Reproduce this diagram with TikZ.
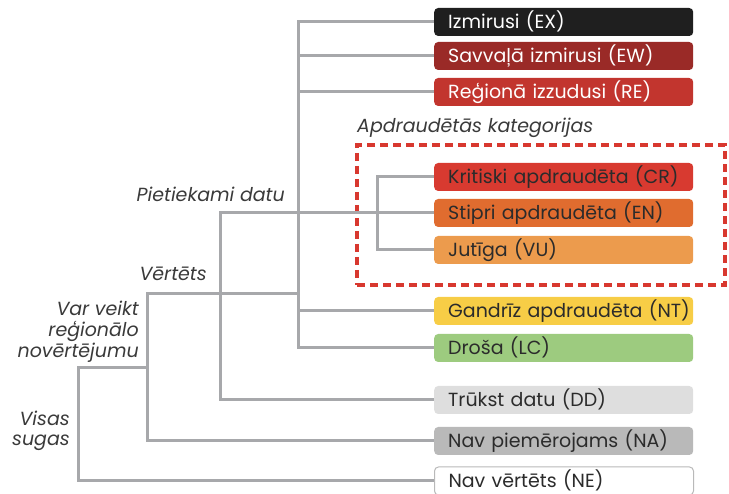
\documentclass[tikz,border=0pt]{standalone}
\usepackage{fontspec}
\setmainfont{Poppins}
\newfontfamily\lblfont{Poppins}
\definecolor{cEX}{HTML}{1F1F1F}
\definecolor{cEW}{HTML}{9A2A27}
\definecolor{cRE}{HTML}{C2352E}
\definecolor{cCR}{HTML}{D83A30}
\definecolor{cEN}{HTML}{E06C2F}
\definecolor{cVU}{HTML}{EC9B4D}
\definecolor{cNT}{HTML}{F7CD46}
\definecolor{cLC}{HTML}{9DCB7F}
\definecolor{cDD}{HTML}{DEDEDE}
\definecolor{cNA}{HTML}{B9B9B9}
\definecolor{treegray}{HTML}{A7A8AB}
\definecolor{dashred}{HTML}{D8382F}
\definecolor{txtdark}{HTML}{2B2B2B}
\definecolor{lblgray}{HTML}{3A3A3A}
\begin{document}
\begin{tikzpicture}[x=1pt,y=-1pt,
  cat/.style={rectangle, rounded corners=4pt, minimum height=28pt, text width=231pt,
    inner xsep=14pt, inner ysep=0pt, align=left, anchor=west, text height=15pt, text depth=1pt,
    font=\fontsize{19}{21}\selectfont, text=txtdark},
  light/.style={text=white},
  tree/.style={draw=treegray, line width=3pt},
  lbl/.style={font=\lblfont\itshape\fontsize{19}{21}\selectfont, text=lblgray, inner sep=0pt},
  dashframe/.style={draw=dashred, line width=4pt, dash pattern=on 8pt off 5pt}
]
\useasboundingbox (0,0) rectangle (729,494);
% category boxes
\node[cat, light, fill=cEX] (ex) at (434,22) {\mbox{Izmirusi (EX)}};
\node[cat, light, fill=cEW] (ew) at (434,56) {\mbox{Savvaļā izmirusi (EW)}};
\node[cat, light, fill=cRE] (re) at (434,92) {\mbox{Reģionā izzudusi (RE)}};
\node[cat, fill=cCR] (cr) at (434,177) {\mbox{Kritiski apdraudēta (CR)}};
\node[cat, fill=cEN] (en) at (434,213) {\mbox{Stipri apdraudēta (EN)}};
\node[cat, fill=cVU] (vu) at (434,250) {\mbox{Jutīga (VU)}};
\node[cat, fill=cNT] (nt) at (434,311) {\mbox{Gandrīz apdraudēta (NT)}};
\node[cat, fill=cLC] (lc) at (434,348) {\mbox{Droša (LC)}};
\node[cat, fill=cDD] (dd) at (434,400) {\mbox{Trūkst datu (DD)}};
\node[cat, fill=cNA] (na) at (434,441) {\mbox{Nav piemērojams (NA)}};
\node[cat, fill=white, draw=cNA, line width=1pt] (ne) at (434,481) {\mbox{Nav vērtēts (NE)}};
% dashed frame
\node[dashframe, minimum width=368pt, minimum height=140pt, inner sep=0pt] (frame) at (541,215) {};
% labels
\node[lbl, anchor=base west] (lthr) at (357,133) {Apdraudētās kategorijas};
\node[lbl, anchor=base east] (lsuf) at (285,202) {Pietiekami datu};
\node[lbl, anchor=base east] (leva) at (207,281) {Vērtēts};
\node[lbl, anchor=north east, align=right] (lreg) at (139,301) {Var veikt\\reģionālo\\novērtējumu};
\node[lbl, anchor=north east, align=right, font=\lblfont\itshape\fontsize{19}{20}\selectfont] (lall) at (70,411) {Visas\\sugas};
% tree connectors
\coordinate (p1) at (298,22);
\coordinate (p2) at (298,348);
\draw[tree] (ex.west) -- (p1) -- (p2) -- (lc.west);
\draw[tree] (ew.west) -- (ew.west -| p1);
\draw[tree] (re.west) -- (re.west -| p1);
\draw[tree] (nt.west) -- (nt.west -| p1);
\coordinate (q1) at (220,213);
\coordinate (q2) at (220,400);
\draw[tree] (en.west) -- (q1) -- (q2) -- (dd.west);
\coordinate (r1) at (377,177);
\coordinate (r2) at (377,250);
\draw[tree] (cr.west) -- (r1) -- (r2) -- (vu.west);
\coordinate (s1) at (147,294);
\coordinate (s2) at (147,441);
\draw[tree] (s1 -| p1) -- (s1) -- (s2) -- (na.west);
\coordinate (u1) at (78,368);
\coordinate (u2) at (78,481);
\draw[tree] (u1 -| s1) -- (u1) -- (u2) -- (ne.west);
\end{tikzpicture}
\end{document}
